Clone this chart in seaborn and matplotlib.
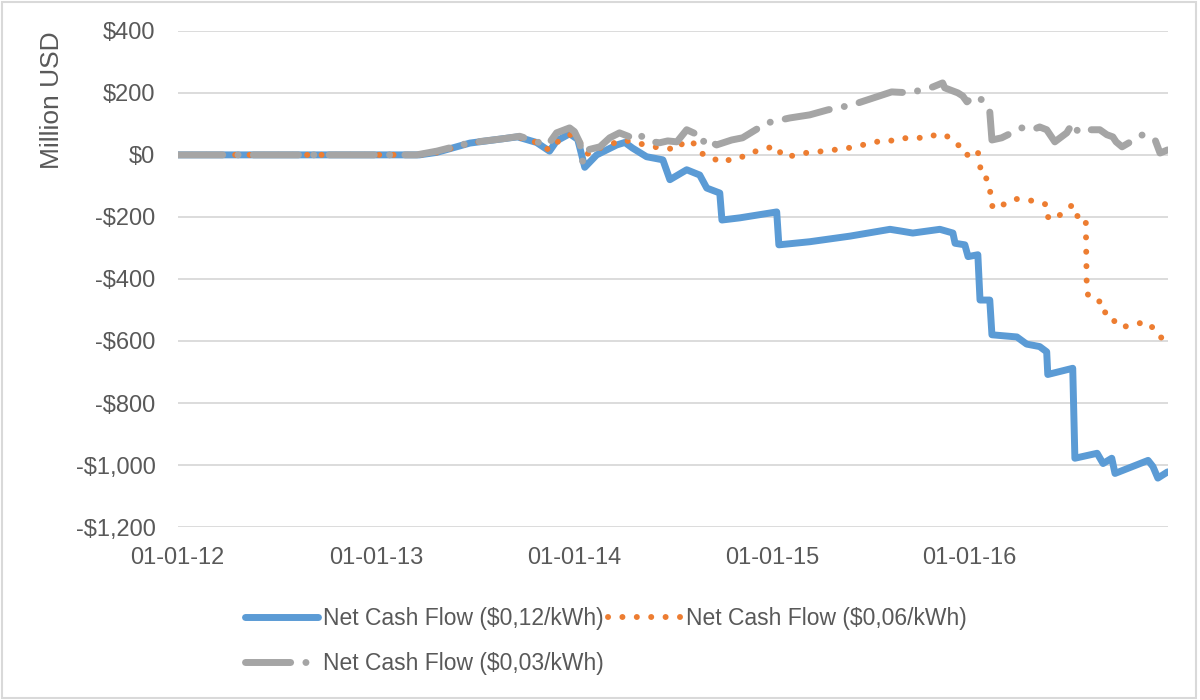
import matplotlib
matplotlib.use("Agg")
import matplotlib.pyplot as plt
from matplotlib.patches import Rectangle
import pandas as pd
import seaborn as sns

# Net cash flow, million USD
blue_dates = ["2012-01-01", "2013-03-22", "2013-04-23", "2013-06-23", "2013-08-23", "2013-09-19",
              "2013-10-24", "2013-11-17", "2013-11-30", "2013-12-24", "2014-01-08", "2014-01-21",
              "2014-02-12", "2014-03-21", "2014-04-05", "2014-04-19", "2014-05-15", "2014-06-14",
              "2014-06-27", "2014-07-28", "2014-08-21", "2014-09-03", "2014-09-27", "2014-10-01",
              "2014-11-03", "2015-01-10", "2015-01-14", "2015-03-12", "2015-05-25", "2015-08-07",
              "2015-08-25", "2015-09-18", "2015-11-07", "2015-12-01", "2015-12-05", "2015-12-23",
              "2015-12-29", "2016-01-16", "2016-01-20", "2016-02-07", "2016-02-11", "2016-03-28",
              "2016-04-15", "2016-05-09", "2016-05-22", "2016-05-24", "2016-07-09", "2016-07-13",
              "2016-08-23", "2016-09-03", "2016-09-19", "2016-09-25", "2016-11-25", "2016-12-04",
              "2016-12-13", "2016-12-31"]
blue_values = [0, 0, 8, 38, 52, 58,
               40, 12, 45, 68, 50, -40,
               0, 32, 40, 22, -6, -16,
               -80, -48, -65, -107, -123, -210,
               -203, -184, -290, -280, -262, -240,
               -245, -252, -240, -252, -285, -290,
               -328, -322, -468, -468, -580, -587,
               -610, -618, -635, -708, -688, -978,
               -962, -995, -978, -1027, -985, -1005,
               -1042, -1022]

orange_dates = ["2012-01-01", "2013-03-22", "2013-04-23", "2013-06-23", "2013-08-23", "2013-09-19",
                "2013-10-24", "2013-11-17", "2013-11-30", "2013-12-24", "2014-01-08", "2014-01-21",
                "2014-02-03", "2014-02-18", "2014-04-01", "2014-04-27", "2014-05-26", "2014-06-21",
                "2014-07-10", "2014-07-24", "2014-08-08", "2014-08-21", "2014-09-14", "2014-09-23",
                "2014-10-06", "2014-10-28", "2014-11-12", "2014-12-04", "2014-12-25", "2015-01-12",
                "2015-01-19", "2015-02-09", "2015-03-03", "2015-04-12", "2015-05-25", "2015-07-06",
                "2015-07-28", "2015-08-16", "2015-09-07", "2015-10-16", "2015-11-03", "2015-11-20",
                "2015-12-01", "2015-12-10", "2015-12-23", "2015-12-29", "2016-01-16", "2016-01-20",
                "2016-01-22", "2016-02-02", "2016-02-07", "2016-02-09", "2016-02-13", "2016-03-06",
                "2016-03-26", "2016-04-26", "2016-05-09", "2016-05-22", "2016-05-24", "2016-06-06",
                "2016-06-21", "2016-07-09", "2016-07-17", "2016-08-02", "2016-08-04", "2016-08-13",
                "2016-09-01", "2016-09-04", "2016-09-21", "2016-09-25", "2016-10-10", "2016-11-01",
                "2016-11-23", "2016-12-04", "2016-12-11", "2016-12-31"]
orange_values = [0, 0, 8, 38, 52, 58,
                 40, 15, 40, 65, 58, 5,
                 3, 22, 48, 39, 26, 22,
                 16, 45, 42, 6, -6, -22,
                 -22, -6, -6, 13, 23, 26,
                 -3, -3, 6, 13, 23, 39,
                 48, 45, 55, 55, 68, 60,
                 50, 32, 23, -6, 10, -30,
                 -68, -77, -103, -145, -174, -158,
                 -142, -148, -152, -161, -200, -210,
                 -184, -161, -197, -200, -445, -468,
                 -474, -506, -516, -545, -555, -545,
                 -539, -558, -581, -600]

gray_dates = ["2012-01-01", "2013-03-17", "2013-04-23", "2013-06-23", "2013-08-23", "2013-09-23",
              "2013-10-30", "2013-11-14", "2013-11-30", "2013-12-24", "2014-01-02", "2014-01-12",
              "2014-01-17", "2014-01-26", "2014-02-18", "2014-03-08", "2014-03-26", "2014-04-14",
              "2014-04-23", "2014-05-08", "2014-05-26", "2014-06-08", "2014-06-23", "2014-07-10",
              "2014-07-28", "2014-08-17", "2014-08-25", "2014-09-05", "2014-09-14", "2014-09-21",
              "2014-10-19", "2014-11-08", "2014-12-23", "2015-02-03", "2015-03-12", "2015-04-14",
              "2015-05-29", "2015-08-10", "2015-09-13", "2015-10-25", "2015-11-12", "2015-11-16",
              "2015-12-10", "2015-12-19", "2015-12-27", "2016-01-07", "2016-01-20", "2016-02-07",
              "2016-02-11", "2016-02-29", "2016-04-06", "2016-04-26", "2016-05-09", "2016-05-22",
              "2016-06-06", "2016-06-28", "2016-07-09", "2016-07-19", "2016-07-31", "2016-08-28",
              "2016-09-10", "2016-09-21", "2016-09-27", "2016-10-08", "2016-11-15", "2016-11-28",
              "2016-12-08", "2016-12-17", "2016-12-31"]
gray_values = [0, 0, 12, 39, 52, 60,
               39, 32, 71, 87, 75, 39,
               -22, 16, 26, 55, 71, 58,
               71, 58, 42, 39, 45, 42,
               81, 65, 39, 55, 39, 32,
               48, 55, 103, 119, 129, 145,
               161, 203, 200, 219, 232, 216,
               200, 190, 171, 187, 184, 139,
               48, 55, 87, 81, 90, 81,
               42, 71, 103, 74, 81, 81,
               65, 58, 42, 26, 65, 58,
               48, 6, 16]

series_labels = ["Net Cash Flow ($0,12/kWh)", "Net Cash Flow ($0,06/kWh)", "Net Cash Flow ($0,03/kWh)"]

y_ticks = [-1200, -1000, -800, -600, -400, -200, 0, 200, 400]
y_tick_labels = ["-$1,200", "-$1,000", "-$800", "-$600", "-$400", "-$200", "$0", "$200", "$400"]
x_ticks = ["2012-01-01", "2013-01-01", "2014-01-01", "2015-01-01", "2016-01-01"]
x_tick_labels = ["01-01-12", "01-01-13", "01-01-14", "01-01-15", "01-01-16"]

blue_df = pd.DataFrame({"date": pd.to_datetime(blue_dates), "value": blue_values})
orange_df = pd.DataFrame({"date": pd.to_datetime(orange_dates), "value": orange_values})
gray_df = pd.DataFrame({"date": pd.to_datetime(gray_dates), "value": gray_values})

sns.set_style("white")
plt.rcParams["font.family"] = ["Liberation Sans", "DejaVu Sans"]
text_col = "#595959"

fig = plt.figure(figsize=(12, 7), dpi=100)
ax = fig.add_axes([0.148, 0.247, 0.825, 0.709])

sns.lineplot(data=blue_df, x="date", y="value", ax=ax, color="#5B9BD5", linewidth=5,
             estimator=None, sort=False, label=series_labels[0],
             solid_capstyle="round", solid_joinstyle="round")
sns.lineplot(data=orange_df, x="date", y="value", ax=ax, color="#ED7D31", linewidth=4.3,
             estimator=None, sort=False, label=series_labels[1],
             linestyle=(0, (0.01, 2.4)), dash_capstyle="round")
sns.lineplot(data=gray_df, x="date", y="value", ax=ax, color="#A5A5A5", linewidth=5,
             estimator=None, sort=False, label=series_labels[2],
             linestyle=(0, (6.5, 2.2, 0.01, 2.2)), dash_capstyle="round")

if ax.get_legend() is not None:
    ax.get_legend().remove()

ax.set_ylim(-1200, 400)
ax.set_xlim(pd.Timestamp("2012-01-01"), pd.Timestamp("2016-12-31"))
ax.set_yticks(y_ticks)
ax.set_yticklabels(y_tick_labels)
ax.set_xticks(pd.to_datetime(x_ticks))
ax.set_xticklabels(x_tick_labels)
ax.tick_params(axis="both", length=0, labelsize=17, colors=text_col)
ax.tick_params(axis="y", pad=16)
ax.tick_params(axis="x", pad=14)

ax.grid(axis="y", color="#d9d9d9", linewidth=1.3)
ax.set_axisbelow(True)
for s in ax.spines.values():
    s.set_visible(False)

ax.set_xlabel("")
ax.set_ylabel("Million USD", fontsize=19, color=text_col)
ax.yaxis.set_label_coords(-0.115, 0.861)

lines = ax.get_lines()
handles = [lines[0], lines[2], lines[1]]
labels = [series_labels[0], series_labels[2], series_labels[1]]
fig.legend(handles, labels, ncol=2, loc="center", bbox_to_anchor=(0.505, 0.084),
           frameon=False, fontsize=16.5, handlelength=3.2, handletextpad=0.2,
           columnspacing=0.2, labelspacing=0.95, labelcolor=text_col)

# chart area border
fig.patches.append(Rectangle((0.002, 0.003), 0.995, 0.994, transform=fig.transFigure,
                             fill=False, edgecolor="#d9d9d9", linewidth=1.5))

fig.savefig("out.png", dpi=100)
